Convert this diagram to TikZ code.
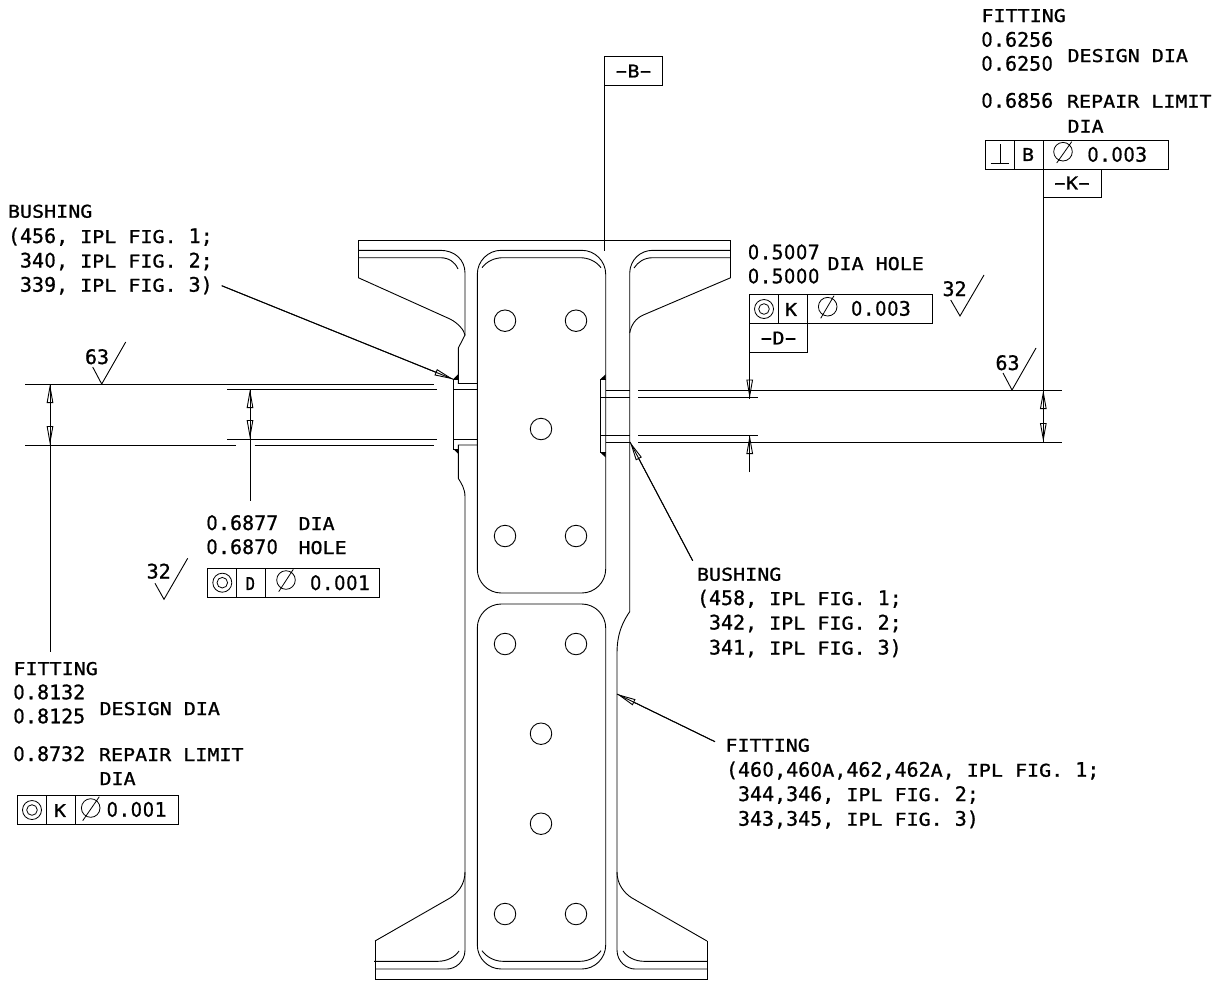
\documentclass[tikz,border=0pt]{standalone}
\usepackage{fontspec}
\usetikzlibrary{arrows.meta}
\newfontfamily\txf[FakeStretch=1.137,FakeBold=1.0]{DejaVu Sans Mono}
\newfontfamily\mnf[FakeBold=1.0]{DejaVu Sans Mono}
\newfontfamily\zrf[FakeBold=1.0]{DejaVu Sans}
\newcommand\z{\makebox[12.04pt]{\scalebox{.88}[1]{\zrf 0}}}
\newcommand\tn[1]{{\fontsize{20pt}{20pt}\selectfont\mnf #1}}
\newcommand\dsh{\makebox[12.04pt]{\scalebox{1.8}[1]{\fontsize{20pt}{20pt}\selectfont\mnf -}}}
\tikzset{
  hd/.tip={Triangle[open,length=19pt,width=6.5pt]},
  part/.style={line width=.9pt,line join=miter},
  dimln/.style={line width=.9pt},
  ldr/.style={line width=.9pt,postaction={draw,arrows=-}},
  lbl/.style={anchor=base west,inner sep=0pt,outer sep=0pt,font=\fontsize{17.6pt}{20pt}\txf},
  ctr/.style={anchor=center,inner sep=0pt,outer sep=0pt,font=\fontsize{17.6pt}{20pt}\txf},
  cell/.style={draw,line width=.9pt,anchor=north west,inner sep=0pt,outer sep=0pt,minimum height=29pt},
  hole/.style={circle,draw,line width=.9pt,minimum size=21.5pt,inner sep=0pt,outer sep=0pt},
  sym/.style={line width=.8pt},
}
\begin{document}
\begin{tikzpicture}[x=1pt,y=-1pt]
\useasboundingbox (0,0) rectangle (1230,980);
% ---- part outline ----
\draw[part] (358.3,277.7) -- (358.3,240) -- (730.7,240) -- (730.7,277.7);
\draw[part] (358.3,250.3) -- (440,250.3) .. controls (455,250.3) and (465,260) .. (465,273) -- (465,335);
\draw[part] (358.3,257.7) -- (440,257.7) .. controls (449,257.7) and (455,262) .. (458,269);
\draw[part] (358.3,277.7) -- (450,319) .. controls (458,323) and (464,330) .. (465,335) -- (458.3,348) -- (458.3,383.5) -- (477.3,383.5);
\draw[part] (730.7,250.3) -- (653,250.3) .. controls (640,250.3) and (630,260) .. (629.7,273) -- (629.7,611.7) .. controls (624,620) and (617,632) .. (617,653) -- (617,950) .. controls (617,962) and (627,969) .. (635,969) -- (707,969);
\draw[part] (730.7,257.7) -- (653,257.7) .. controls (644,257.7) and (638,262) .. (634,268);
\draw[part] (730.7,277.7) -- (643.3,315) .. controls (636,318) and (631,325) .. (629.7,333);
% pockets
\draw[part,rounded corners=24pt] (477.3,250.3) rectangle (605.7,593);
\draw[part,rounded corners=24pt] (477.3,604) rectangle (605.7,969);
\draw[part] (482,267.7) .. controls (487,261) and (495,257.7) .. (503,257.7) -- (580,257.7) .. controls (588,257.7) and (596,261) .. (601,267.7);
\draw[part] (482,950.7) .. controls (487,957.5) and (495,961.3) .. (503,961.3) -- (580,961.3) .. controls (588,961.3) and (596,957.5) .. (601,950.7);
% bushings left
\draw[part] (458.3,379) -- (453.3,379) -- (453.3,449) -- (458.3,449);
\draw[part] (453.3,389) -- (477.3,389);
\draw[part] (453.3,439) -- (477.3,439);
\draw[part] (477.3,445) -- (458.3,445) -- (458.3,478.3) .. controls (461,483) and (465,488) .. (465,497) -- (465,950) .. controls (465,962) and (455,969) .. (447,969) -- (375,969);
\fill (453.3,379) -- (458.3,374) -- (458.3,379) -- cycle;
\fill (453.3,449) -- (458.3,454) -- (458.3,449) -- cycle;
% bushings right
\draw[part] (605.7,379.5) -- (600,379.5) -- (600,452.3) -- (605.7,452.3);
\draw[part] (605.7,390) -- (629.7,390);
\draw[part] (600,397) -- (629.7,397);
\draw[part] (600,435) -- (629.7,435);
\draw[part] (605.7,442) -- (629.7,442);
\fill (600,379.5) -- (605.7,374.3) -- (605.7,379.5) -- cycle;
\fill (600,452.3) -- (605.7,457.5) -- (605.7,452.3) -- cycle;
% bottom flange
\draw[part] (375,941) -- (375,979) -- (707,979) -- (707,941);
\draw[part] (375,941) -- (450,898) .. controls (458,893) and (465,884) .. (465,872);
\draw[part] (707,941) -- (632,898) .. controls (624,893) and (617,884) .. (617,872);
\draw[part] (374,961.3) -- (438,961.3) .. controls (447,961.3) and (455,957) .. (459,951);
\draw[part] (707,961.3) -- (644,961.3) .. controls (635,961.3) and (627,957) .. (623,951);
% holes
\node[hole] (h1) at (505,320.7) {};
\node[hole] (h2) at (576,320.7) {};
\node[hole] (h3) at (541,429) {};
\node[hole] (h4) at (505,536) {};
\node[hole] (h5) at (576,536) {};
\node[hole] (h6) at (505,644) {};
\node[hole] (h7) at (576,644) {};
\node[hole] (h8) at (541,733.7) {};
\node[hole] (h9) at (541,823.7) {};
\node[hole] (h10) at (505,914) {};
\node[hole] (h11) at (576,914) {};
% ---- extension lines ----
\draw[dimln] (25,384) -- (434,384);
\draw[dimln] (227,389) -- (436.7,389);
\draw[dimln] (227,439) -- (436.7,439);
\draw[dimln] (25,445) -- (236,445);
\draw[dimln] (254.7,445) -- (434,445);
\draw[dimln] (638,390) -- (1062,390);
\draw[dimln] (638,397) -- (758,397);
\draw[dimln] (638,435) -- (758,435);
\draw[dimln] (638,442) -- (1062,442);
% ---- datum B ----
\node[cell,minimum width=58pt] (bBox) at (604.3,56.7) {};
\node[ctr] (bTxt) at (633.5,71) {\dsh B\dsh};
\coordinate (bEnd) at (604.3,250.7);
\draw[dimln] (bBox.south west) -- (bEnd);
% ---- top right frame ----
\node[cell,minimum width=29pt] (kA) at (985.7,140) {};
\node[cell,minimum width=28.6pt] (kB) at (1014.7,140) {};
\node[cell,minimum width=124.7pt] (kC) at (1043.3,140) {};
\node[cell,minimum width=57.7pt,minimum height=28.7pt] (kBox) at (1043.3,169) {};
\node[ctr] (kBt) at (1028,154.5) {B};
\node[ctr] (kKt) at (1072,183) {\dsh K\dsh};
\node[lbl] (k3) at (1087,161.7) {\tn{\z.\z\z3}};
\draw[sym] (990.7,163.3) -- (1009.3,163.3) (1000,144) -- (1000,163.3);
\draw[sym] (1063,151.7) circle (9.3pt) (1056.7,163) -- (1071.7,141.7);
% text top right
\node[lbl] (t1) at (981.5,22) {FITTING};
\node[lbl] (t2) at (981,46.7) {\tn{\z.6256}};
\node[lbl] (t3) at (981,70.7) {\tn{\z.625\z}};
\node[lbl] (t4) at (1067.5,62) {DESIGN DIA};
\node[lbl] (t5) at (981,107.7) {\tn{\z.6856}};
\node[lbl] (t6) at (1067,107.7) {REPAIR LIMIT};
\node[lbl] (t7) at (1067.5,132.7) {DIA};
% ---- D frame ----
\node[cell,minimum width=29pt] (dA) at (749.7,294) {};
\node[cell,minimum width=28.6pt] (dB) at (778.7,294) {};
\node[cell,minimum width=124.7pt] (dC) at (807.3,294) {};
\node[cell,minimum width=57.6pt] (dBox) at (749.7,323) {};
\node[ctr] (dKt) at (791,309.5) {K};
\node[ctr] (dDt) at (778.5,338) {\dsh D\dsh};
\node[lbl] (d3) at (850.7,315.7) {\tn{\z.\z\z3}};
\draw[sym] (764,309) circle (9.5pt) circle (5.3pt);
\draw[sym] (827.7,306.7) circle (9.3pt) (820.7,318.3) -- (834,295.7);
\node[lbl] (u1) at (747.5,259.3) {\tn{\z.5\z\z7}};
\node[lbl] (u2) at (747.5,283.3) {\tn{\z.5\z\z\z}};
\node[lbl] (u3) at (827.5,270) {DIA HOLE};
% ---- dimension right ----
\coordinate (rUpTip) at (749.7,398.5);
\coordinate (rLoTip) at (749.7,435);
\coordinate (rLoEnd) at (749.7,472);
\draw[ldr,-{hd}] (dBox.south west) -- (rUpTip);
\draw[ldr,-{hd}] (rLoEnd) -- (rLoTip);
\coordinate (kUp) at (1043.3,390);
\coordinate (kLo) at (1043.3,442);
\draw[dimln] (kBox.south west) -- (kUp);
\draw[ldr,{hd}-{hd}] (kUp) -- (kLo);
% ---- dimension left ----
\coordinate (lUp) at (50,384);
\coordinate (lLo) at (50,445);
\coordinate (lEnd) at (50,652);
\draw[ldr,{hd}-{hd}] (lUp) -- (lLo);
\draw[dimln] (lLo) -- (lEnd);
\coordinate (mUp) at (250,389);
\coordinate (mLo) at (250,439);
\coordinate (mEnd) at (250,500.7);
\draw[ldr,{hd}-{hd}] (mUp) -- (mLo);
\draw[dimln] (mLo) -- (mEnd);
% ---- leaders ----
\coordinate (aS) at (221.7,285.7);
\coordinate (aT) at (453.3,379.3);
\draw[ldr,-{hd}] (aS) -- (aT);
\coordinate (bS) at (692.7,560.7);
\coordinate (bT) at (630,442);
\draw[ldr,-{hd}] (bS) -- (bT);
\coordinate (cS) at (715,741.7);
\coordinate (cT) at (617,694);
\draw[ldr,-{hd}] (cS) -- (cT);
% ---- surface checks ----
\draw[dimln] (92.7,367) -- (101.7,384) -- (125.7,342);
\node[lbl] (s1) at (85,364) {\tn{63}};
\draw[dimln] (1003,373) -- (1012,390) -- (1036,348);
\node[lbl] (s2) at (995.5,370) {\tn{63}};
\draw[dimln] (950.7,300) -- (960,316) -- (984,275);
\node[lbl] (s3) at (942.5,296) {\tn{32}};
\draw[dimln] (155,583.3) -- (164,599.3) -- (187.7,558.3);
\node[lbl] (s4) at (146.7,578.5) {\tn{32}};
% ---- text top left ----
\node[lbl] (a1) at (8,217.7) {BUSHING};
\node[lbl] (a2) at (8,243) {\tn{(456,} IPL FIG. \tn{1;}};
\node[lbl] (a3) at (20,267.5) {\tn{34\z,} IPL FIG. \tn{2;}};
\node[lbl] (a4) at (20,291.7) {\tn{339,} IPL FIG. \tn{3)}};
% ---- text middle ----
\node[lbl] (m1) at (206,530) {\tn{\z.6877}};
\node[lbl] (m2) at (206,554) {\tn{\z.687\z}};
\node[lbl] (m3) at (298.5,530) {DIA};
\node[lbl] (m4) at (298.5,554) {HOLE};
\node[cell,minimum width=29pt] (eA) at (207.7,568.3) {};
\node[cell,minimum width=29pt] (eB) at (236.7,568.3) {};
\node[cell,minimum width=113.3pt] (eC) at (265.7,568.3) {};
\node[ctr] (eD) at (250.3,583.5) {\scalebox{.78}[1]{D}};
\node[lbl] (e3) at (309.7,590) {\tn{\z.\z\z1}};
\draw[sym] (222.3,582.7) circle (9.5pt) circle (5.3pt);
\draw[sym] (286,580) circle (9.3pt) (278.7,591.7) -- (293.3,569.3);
% ---- text bottom left ----
\node[lbl] (f1) at (13.5,675) {FITTING};
\node[lbl] (f2) at (13,699.3) {\tn{\z.8132}};
\node[lbl] (f3) at (13,723.3) {\tn{\z.8125}};
\node[lbl] (f4) at (99.5,715) {DESIGN DIA};
\node[lbl] (f5) at (13,761) {\tn{\z.8732}};
\node[lbl] (f6) at (99,761) {REPAIR LIMIT};
\node[lbl] (f7) at (99.5,785) {DIA};
\node[cell,minimum width=29pt] (gA) at (17.7,795) {};
\node[cell,minimum width=29pt] (gB) at (46.7,795) {};
\node[cell,minimum width=102.6pt] (gC) at (75.7,795) {};
\node[ctr] (gK) at (60,810.5) {K};
\node[lbl] (g3) at (106.3,816.7) {\tn{\z.\z\z1}};
\draw[sym] (32,810) circle (9.5pt) circle (5.3pt);
\draw[sym] (90.7,808) circle (9.3pt) (82.7,820.7) -- (99.3,796.7);
% ---- text right ----
\node[lbl] (b1) at (697,580.7) {BUSHING};
\node[lbl] (b2) at (697,605) {\tn{(458,} IPL FIG. \tn{1;}};
\node[lbl] (b3) at (709,629.5) {\tn{342,} IPL FIG. \tn{2;}};
\node[lbl] (b4) at (709,654.5) {\tn{341,} IPL FIG. \tn{3)}};
\node[lbl] (c1) at (725.5,751.7) {FITTING};
\node[lbl] (c2) at (726,776.7) {\tn{(46\z,46\z}A\tn{,462,462}A\tn{,} IPL FIG. \tn{1;}};
\node[lbl] (c3) at (738,801) {\tn{344,346,} IPL FIG. \tn{2;}};
\node[lbl] (c4) at (738,825.7) {\tn{343,345,} IPL FIG. \tn{3)}};
\end{tikzpicture}
\end{document}
